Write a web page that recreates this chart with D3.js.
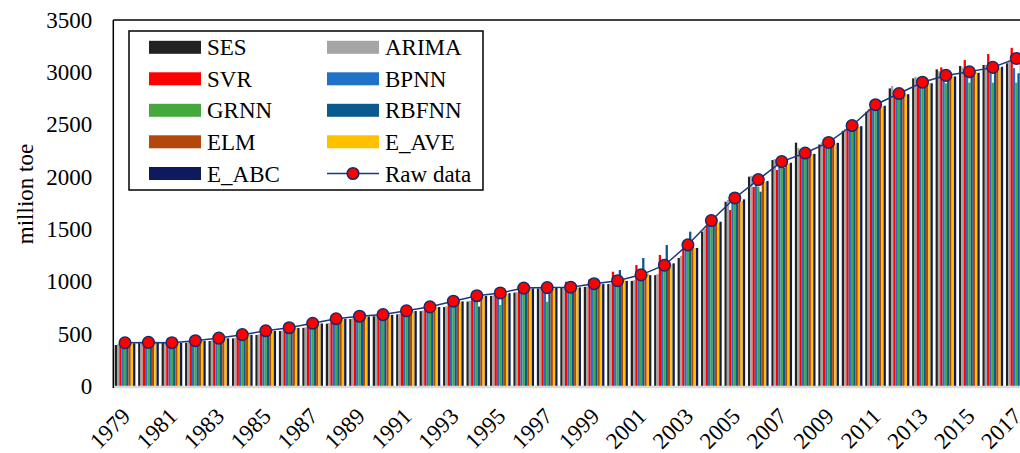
<!DOCTYPE html>
<html>
<head>
<meta charset="utf-8">
<script src="https://cdn.jsdelivr.net/npm/d3@7"></script>
<style>
  html, body { margin: 0; padding: 0; background: #fff; }
  svg { display: block; font-family: "Liberation Serif", "Times New Roman", serif; }
</style>
</head>
<body>
<svg id="chart" width="1020" height="453"></svg>
<script>
const years = d3.range(1979, 2018);
const seriesNames = ["SES","ARIMA","SVR","BPNN","GRNN","RBFNN","ELM","E_AVE","E_ABC"];
const seriesColors = ["#222222","#A5A5A5","#FF0000","#1E73C8","#45A83D","#0B5A8F","#B4470B","#FFC000","#0D1B5E"];
const yTicks = [0,500,1000,1500,2000,2500,3000,3500];
const xTickLabels = years.filter(y => (y - 1979) % 2 === 0);

const rawData = [413,417,414,433,458,491,528,557,600,643,667,683,719,757,811,863,890,936,941,945,978,1007,1063,1155,1350,1582,1798,1974,2146,2228,2329,2491,2690,2797,2905,2970,3005,3047,3132];
const SES   = [392,410,418,414,430,455,488,525,556,596,640,667,685,716,755,808,862,893,933,945,948,975,1005,1060,1224,1476,1762,2002,2161,2327,2310,2440,2623,2846,2942,3028,3060,3070,3086];
const ARIMA = [400,415,420,418,436,462,495,530,562,603,646,670,690,722,762,815,866,897,938,948,952,980,1012,1070,1245,1500,1778,2010,2170,2276,2330,2460,2650,2869,2955,3010,3045,3068,3100];
const SVR   = [420,425,422,438,462,494,530,560,602,645,670,688,722,760,815,866,895,940,950,997,1020,1093,1157,1253,1330,1530,1683,1903,2066,2200,2300,2460,2680,2810,2933,3047,3117,3175,3234];
const BPNN  = [410,416,413,432,456,489,526,556,598,641,665,682,717,755,808,860,887,932,938,943,975,1004,1060,1150,1340,1575,1790,1965,2140,2222,2320,2485,2680,2790,2895,2960,2945,2990,3040];
const GRNN  = [405,412,410,428,452,485,522,552,594,637,660,678,712,750,800,855,775,925,806,938,970,1000,1055,1145,1310,1545,1745,1905,2100,2200,2310,2470,2660,2780,2880,2894,2901,2901,2901];
const RBFNN = [412,418,415,434,459,492,529,558,601,644,668,684,720,758,812,760,891,937,942,947,1000,1109,1224,1348,1476,1590,1790,1858,2085,2230,2330,2495,2695,2800,2905,2965,3000,3040,2990];
const ELM   = [411,416,414,432,457,490,527,556,599,642,666,682,718,756,810,862,889,935,940,944,977,1006,1062,1153,1345,1578,1795,1970,2143,2226,2327,2489,2688,2795,2903,2968,3003,3045,3130];
const E_AVE = [405,414,412,430,455,487,523,552,595,637,662,679,714,752,805,855,880,928,930,940,970,1015,1075,1165,1320,1560,1770,1950,2125,2215,2320,2480,2670,2790,2895,2960,3000,3040,3110];
const E_ABC = [408,415,413,431,456,489,526,555,598,641,665,681,717,755,809,861,888,933,939,943,976,1005,1060,1173,1320,1571,1785,1960,2135,2220,2325,2485,2680,2790,2895,2960,2995,3053,3120];

const seriesValues = [SES, ARIMA, SVR, BPNN, GRNN, RBFNN, ELM, E_AVE, E_ABC];

const svg = d3.select("#chart");
const pLeft = 113.3, pRight = 1028, pTop = 20, pBottom = 386;
const fontSize = 23;

const x = d3.scaleBand().domain(years).range([pLeft, pRight]).paddingInner(0.12).paddingOuter(0.06);
const xs = d3.scaleBand().domain(seriesNames).range([0, x.bandwidth()]);
const y = d3.scaleLinear().domain([0, 3500]).range([pBottom, pTop]);

// bars
const groups = svg.append("g").selectAll("g").data(years).join("g")
  .attr("transform", d => `translate(${x(d)},0)`);
groups.selectAll("rect")
  .data((d, i) => seriesNames.map((s, k) => ({ s, k, v: seriesValues[k][i] })))
  .join("rect")
  .attr("x", d => xs(d.s))
  .attr("width", xs.bandwidth())
  .attr("y", d => y(d.v))
  .attr("height", d => y(0) - y(d.v))
  .attr("fill", d => seriesColors[d.k]);

// frame
svg.append("line").attr("x1", pLeft).attr("x2", pRight).attr("y1", pTop).attr("y2", pTop)
  .attr("stroke", "#000").attr("stroke-width", 1.5);
svg.append("line").attr("x1", pLeft).attr("x2", pRight).attr("y1", pBottom + 1).attr("y2", pBottom + 1)
  .attr("stroke", "#D9D9D9").attr("stroke-width", 2.5);
svg.append("line").attr("x1", pLeft).attr("x2", pLeft).attr("y1", pTop).attr("y2", pBottom + 2)
  .attr("stroke", "#000").attr("stroke-width", 1.5);

// y axis
const yAxis = d3.axisLeft(y).tickValues(yTicks).tickSize(0).tickPadding(21).tickFormat(d3.format("d"));
const yg = svg.append("g").attr("transform", `translate(${pLeft},0)`).call(yAxis);
yg.select(".domain").remove();
yg.selectAll("text").attr("font-size", fontSize).attr("fill", "#000")
  .attr("font-family", "Liberation Serif, Times New Roman, serif");

// x axis labels
const xg = svg.append("g");
xg.selectAll("text").data(xTickLabels).join("text")
  .attr("transform", d => `translate(${x(d) + x.bandwidth() / 2 + 1},${pBottom + 26}) rotate(-45)`)
  .attr("text-anchor", "end")
  .attr("dy", "0.35em")
  .attr("font-size", fontSize)
  .text(d => d);

// y title
svg.append("text")
  .attr("transform", `translate(33,194) rotate(-90)`)
  .attr("text-anchor", "middle")
  .attr("font-size", fontSize)
  .text("million toe");

// raw data line + markers
const line = d3.line().x((d, i) => x(years[i]) + x.bandwidth() / 2).y(d => y(d));
svg.append("path").datum(rawData).attr("d", line)
  .attr("fill", "none").attr("stroke", "#1F3580").attr("stroke-width", 1.5);
svg.append("g").selectAll("circle").data(rawData).join("circle")
  .attr("cx", (d, i) => x(years[i]) + x.bandwidth() / 2)
  .attr("cy", d => y(d))
  .attr("r", 5.8)
  .attr("fill", "#FF0000")
  .attr("stroke", "#1A2A6B").attr("stroke-width", 1.5);

// legend
const lg = svg.append("g");
lg.append("rect").attr("x", 129).attr("y", 31).attr("width", 354).attr("height", 159)
  .attr("fill", "#fff").attr("stroke", "#000").attr("stroke-width", 1.5);
const legendItems = seriesNames.map((s, k) => ({ name: s, color: seriesColors[k], type: "bar" }))
  .concat([{ name: "Raw data", type: "line" }]);
const rowY = [47.3, 78.8, 110.3, 141.8, 173.5];
const colX = [149, 327];
legendItems.forEach((d, i) => {
  const col = i % 2, row = Math.floor(i / 2);
  const cx = colX[col], cy = rowY[row];
  if (d.type === "bar") {
    lg.append("rect").attr("x", cx).attr("y", cy - 6.5).attr("width", 52).attr("height", 13).attr("fill", d.color);
  } else {
    lg.append("line").attr("x1", cx).attr("x2", cx + 52).attr("y1", cy).attr("y2", cy)
      .attr("stroke", "#1F3580").attr("stroke-width", 1.5);
    lg.append("circle").attr("cx", cx + 26).attr("cy", cy).attr("r", 5.8)
      .attr("fill", "#FF0000").attr("stroke", "#1A2A6B").attr("stroke-width", 1.5);
  }
  lg.append("text").attr("x", cx + 58).attr("y", cy).attr("dy", "0.35em")
    .attr("font-size", fontSize).text(d.name);
});
</script>
</body>
</html>
